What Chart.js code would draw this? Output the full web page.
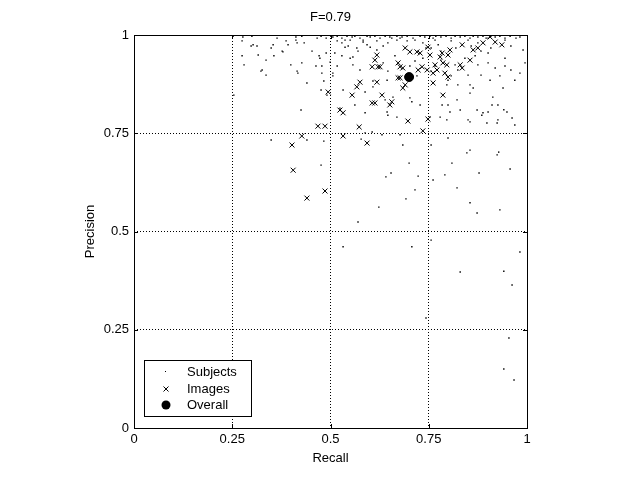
<!DOCTYPE html>
<html>
<head>
<meta charset="utf-8">
<title>F=0.79</title>
<script src="https://cdn.jsdelivr.net/npm/chart.js@4.4.1/dist/chart.umd.min.js"></script>
<style>
  html, body { margin: 0; padding: 0; background: #fff; }
  #wrap { width: 640px; height: 481px; }
</style>
</head>
<body>
<div id="wrap"><canvas id="prChart" width="640" height="481"></canvas></div>
<script>
const chartTitle = 'F=0.79';
const xAxisTitle = 'Recall';
const yAxisTitle = 'Precision';
const legendLabels = ['Subjects', 'Images', 'Overall'];
const tickValues = [0, 0.25, 0.5, 0.75, 1];
const tickLabels = ['0', '0.25', '0.5', '0.75', '1'];

// one dot per subject
const subjectRecall = [
    0.252,0.277,0.300,0.364,0.412,0.427,0.466,0.476,0.489,0.501,
    0.506,0.517,0.529,0.542,0.555,0.562,0.575,0.593,0.601,0.613,
    0.626,0.639,0.651,0.656,0.669,0.682,0.695,0.710,0.728,0.740,
    0.753,0.761,0.768,0.781,0.794,0.807,0.817,0.830,0.842,0.855,
    0.863,0.875,0.888,0.896,0.908,0.919,0.931,0.944,0.957,0.982,
    0.275,0.298,0.313,0.349,0.387,0.412,0.433,0.377,0.356,0.336,0.275,0.280,0.323,0.336,0.399,0.415,
    0.440,0.453,0.471,0.489,0.463,0.478,0.483,0.491,0.425,0.349,0.440,0.483,0.476,0.254,0.476,
    0.303,0.316,0.326,0.354,0.379,0.392,0.415,0.427,0.417,0.473,0.478,0.499,
    0.506,0.529,0.537,0.550,0.557,0.567,0.583,0.601,0.618,0.524,0.562,0.588,
    0.517,0.537,0.545,0.583,0.593,0.618,0.634,0.646,0.669,0.677,0.695,0.715,0.735,0.743,0.511,0.529,
    0.550,0.570,0.557,0.575,0.517,0.506,0.634,0.664,0.646,0.702,0.715,0.735,0.644,0.702,0.720,0.608,
    0.766,0.774,0.756,0.781,0.807,0.819,0.850,0.858,0.875,0.883,0.901,0.908,0.944,0.959,0.972,0.990,0.781,0.766,0.756,
    0.817,0.824,0.842,0.868,0.875,0.901,0.919,0.944,0.959,0.982,0.931,0.883,0.850,0.906,0.969,0.807,0.944,0.995,0.901,
    0.532,0.588,0.644,0.639,0.659,0.702,0.707,0.728,0.669,0.646,0.608,0.753,0.779,0.799,0.822,0.830,0.855,0.873,
    0.888,0.913,0.926,0.949,0.962,0.855,0.898,0.924,0.969,0.796,0.855,0.863,0.824,0.799,0.606,0.588,0.677,0.939,
    0.784,0.804,0.850,0.885,0.901,0.911,0.941,0.796,0.926,0.799,0.847,0.855,
    0.924,0.809,0.791,0.878,0.957,0.761,0.822,0.855,0.873,0.931,0.982,
    0.631,0.684,0.700,0.654,0.641,0.723,0.715,0.692,0.623,0.570,0.756,0.928,0.578,
    0.532,0.707,0.756,0.830,0.941,0.962,0.743,0.954,0.941,0.967
];
const subjectPrecision = [
    0.997,0.995,0.997,0.992,0.995,0.997,0.992,0.997,0.992,0.997,
    0.995,0.997,0.992,0.997,0.995,0.997,0.992,0.997,0.995,0.997,
    0.992,0.997,0.995,0.992,0.997,0.995,0.997,0.992,0.997,0.995,
    0.997,0.992,0.997,0.995,0.997,0.992,0.997,0.995,0.997,0.992,
    0.997,0.995,0.997,0.992,0.997,0.995,0.997,0.992,0.997,0.995,
    0.985,0.972,0.972,0.967,0.985,0.987,0.980,0.959,0.947,0.936,0.947,0.924,0.908,0.898,0.924,0.908,
    0.878,0.959,0.947,0.954,0.921,0.903,0.883,0.847,0.809,0.733,0.733,0.730,0.669,0.847,0.860,
    0.975,0.949,0.911,0.975,0.957,0.975,0.980,0.929,0.903,0.941,0.921,0.931,
    0.903,0.980,0.969,0.987,0.944,0.967,0.982,0.969,0.962,0.814,0.822,0.855,
    0.985,0.987,0.972,0.987,0.975,0.985,0.972,0.980,0.987,0.992,0.985,0.987,0.980,0.967,0.954,0.947,
    0.941,0.959,0.924,0.911,0.921,0.896,0.929,0.947,0.908,0.921,0.934,0.941,0.885,0.885,0.896,0.883,
    0.987,0.975,0.967,0.959,0.985,0.967,0.987,0.972,0.980,0.959,0.992,0.967,0.987,0.972,0.992,0.962,0.936,0.921,0.908,
    0.924,0.911,0.941,0.947,0.924,0.929,0.916,0.921,0.911,0.903,0.896,0.898,0.898,0.885,0.885,0.896,0.941,0.929,0.954,
    0.860,0.802,0.804,0.835,0.842,0.840,0.830,0.822,0.791,0.796,0.868,0.791,0.791,0.822,0.835,0.809,0.852,0.809,
    0.802,0.842,0.822,0.804,0.789,0.779,0.776,0.776,0.771,0.873,0.873,0.865,0.873,0.885,0.753,0.751,0.746,0.865,
    0.822,0.804,0.784,0.796,0.804,0.822,0.810,0.784,0.784,0.738,0.700,0.707,
    0.695,0.674,0.644,0.649,0.659,0.631,0.611,0.573,0.547,0.555,0.448,
    0.746,0.720,0.674,0.649,0.639,0.641,0.606,0.583,0.562,0.524,0.720,0.702,0.735,
    0.461,0.461,0.478,0.397,0.399,0.364,0.280,0.229,0.150,0.122
];

// one cross per image
const imageRecall = [
    0.936,0.919,0.906,0.888,0.875,0.863,0.855,0.835,0.830,0.835,
    0.804,0.799,0.784,0.779,0.786,0.796,0.799,0.791,0.766,0.771,
    0.748,0.753,0.746,0.761,0.733,0.723,0.720,0.702,0.690,0.728,
    0.672,0.677,0.684,0.672,0.677,0.690,0.684,0.618,0.613,0.606,
    0.621,0.618,0.575,0.567,0.555,0.494,0.631,0.656,0.651,0.606,
    0.613,0.524,0.532,0.468,0.486,0.573,0.427,0.532,0.697,0.748,
    0.735,0.786,0.761,0.593,0.402,0.405,0.486,0.440,0.626
];
const imagePrecision = [
    0.975,0.982,0.995,0.980,0.967,0.962,0.936,0.975,0.924,0.916,
    0.962,0.949,0.954,0.944,0.929,0.924,0.893,0.903,0.924,0.911,
    0.969,0.949,0.911,0.903,0.919,0.911,0.957,0.957,0.967,0.954,
    0.929,0.919,0.916,0.891,0.891,0.873,0.865,0.949,0.936,0.919,
    0.919,0.880,0.880,0.868,0.847,0.855,0.847,0.830,0.822,0.827,
    0.827,0.809,0.802,0.768,0.768,0.766,0.743,0.743,0.781,0.786,
    0.756,0.847,0.878,0.725,0.720,0.656,0.603,0.585,0.919
];

const overallRecall = [0.700];
const overallPrecision = [0.893];

const FONT = "'Liberation Sans', Arial, Helvetica, sans-serif";

function toPoints(xs, ys) {
    return xs.map((x, i) => ({ x: x, y: ys[i] }));
}

// Matlab-like box, inward ticks and legend
const frameAndLegend = {
    id: 'frameAndLegend',
    afterDatasetsDraw(chart) {
        const ctx = chart.ctx;
        const area = chart.chartArea;
        const xs = chart.scales.x;
        const ys = chart.scales.y;
        ctx.save();
        ctx.strokeStyle = '#000';
        ctx.lineWidth = 1;
        ctx.strokeRect(Math.round(area.left) + 0.5, Math.round(area.top) + 0.5,
            Math.round(area.right - area.left), Math.round(area.bottom - area.top));

        const tick = 4;
        ctx.beginPath();
        tickValues.forEach(v => {
            const px = Math.round(xs.getPixelForValue(v)) + 0.5;
            ctx.moveTo(px, area.bottom); ctx.lineTo(px, area.bottom - tick);
            ctx.moveTo(px, area.top); ctx.lineTo(px, area.top + tick);
            const py = Math.round(ys.getPixelForValue(v)) + 0.5;
            ctx.moveTo(area.left, py); ctx.lineTo(area.left + tick, py);
            ctx.moveTo(area.right, py); ctx.lineTo(area.right - tick, py);
        });
        ctx.stroke();

        // legend box
        const lx = 144, ly = 360, lw = 107, lh = 56;
        ctx.fillStyle = '#fff';
        ctx.fillRect(lx, ly, lw, lh);
        ctx.strokeRect(lx + 0.5, ly + 0.5, lw, lh);

        const mx = 166, tx = 187;
        const rows = [372, 389, 405];
        ctx.fillStyle = '#000';
        ctx.fillRect(mx - 1, rows[0] - 1, 1, 1);
        ctx.beginPath();
        ctx.moveTo(mx - 2.5, rows[1] - 2.5); ctx.lineTo(mx + 2.5, rows[1] + 2.5);
        ctx.moveTo(mx - 2.5, rows[1] + 2.5); ctx.lineTo(mx + 2.5, rows[1] - 2.5);
        ctx.stroke();
        ctx.beginPath();
        ctx.arc(mx, rows[2], 4.5, 0, Math.PI * 2);
        ctx.fill();

        ctx.font = '13px ' + FONT;
        ctx.textAlign = 'left';
        ctx.textBaseline = 'middle';
        legendLabels.forEach((label, i) => ctx.fillText(label, tx, rows[i]));
        ctx.restore();
    }
};

function gridColor(context) {
    const v = context.tick ? context.tick.value : null;
    return (v === 0 || v === 1) ? 'rgba(0,0,0,0)' : '#000';
}

function tickLabel(value) {
    const i = tickValues.indexOf(value);
    return i >= 0 ? tickLabels[i] : '';
}

const ctx = document.getElementById('prChart');
new Chart(ctx, {
    type: 'scatter',
    data: {
        datasets: [
            {
                label: legendLabels[2],
                data: toPoints(overallRecall, overallPrecision),
                pointStyle: 'circle',
                pointRadius: 4.5,
                backgroundColor: '#000',
                borderColor: '#000',
                borderWidth: 1,
                order: 0
            },
            {
                label: legendLabels[1],
                data: toPoints(imageRecall, imagePrecision),
                pointStyle: 'crossRot',
                pointRadius: 3.5,
                borderColor: '#000',
                borderWidth: 1,
                order: 1
            },
            {
                label: legendLabels[0],
                data: toPoints(subjectRecall, subjectPrecision),
                pointStyle: 'rect',
                pointRadius: 1,
                backgroundColor: '#000',
                borderWidth: 0,
                order: 2
            }
        ]
    },
    options: {
        responsive: false,
        animation: false,
        events: [],
        layout: { padding: { left: 0, right: 113, top: 0, bottom: 0 } },
        plugins: {
            legend: { display: false },
            tooltip: { enabled: false },
            title: {
                display: true,
                text: chartTitle,
                fullSize: false,
                color: '#000',
                font: { family: FONT, size: 13, weight: 'normal' },
                padding: { top: 9.5, bottom: 9.9 }
            }
        },
        scales: {
            x: {
                type: 'linear',
                min: 0,
                max: 1,
                afterFit: scale => { scale.height = 53; },
                ticks: {
                    stepSize: 0.25,
                    padding: 4,
                    maxRotation: 0,
                    color: '#000',
                    font: { family: FONT, size: 13 },
                    callback: tickLabel
                },
                grid: { color: gridColor, lineWidth: 1, drawTicks: false },
                border: { display: false, dash: [1, 2] },
                title: {
                    display: true,
                    text: xAxisTitle,
                    color: '#000',
                    font: { family: FONT, size: 13 },
                    padding: { top: 0, bottom: 15.2 }
                }
            },
            y: {
                type: 'linear',
                min: 0,
                max: 1,
                afterFit: scale => { scale.width = 134; },
                ticks: {
                    stepSize: 0.25,
                    padding: 5,
                    color: '#000',
                    font: { family: FONT, size: 13 },
                    callback: tickLabel
                },
                grid: { color: gridColor, lineWidth: 1, drawTicks: false },
                border: { display: false, dash: [1, 2] },
                title: {
                    display: true,
                    text: yAxisTitle,
                    color: '#000',
                    font: { family: FONT, size: 13 },
                    padding: { top: 82.2, bottom: 0 }
                }
            }
        }
    },
    plugins: [frameAndLegend]
});
</script>
</body>
</html>
